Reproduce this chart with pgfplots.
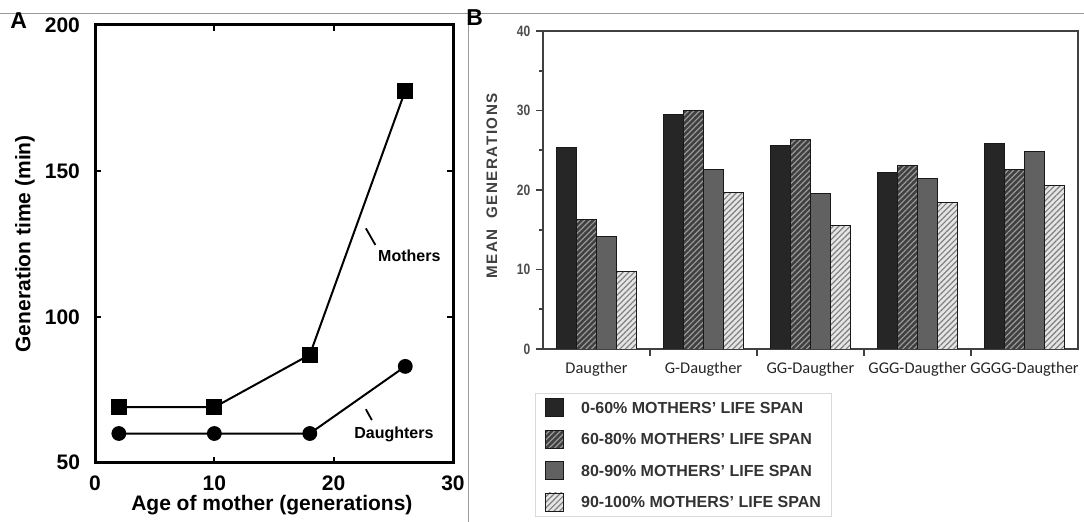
\documentclass[border=0pt]{standalone}
\usepackage{fontspec}
\setmainfont{Liberation Sans}
\newfontfamily\carlito{Carlito}
\usepackage{pgfplots}
\pgfplotsset{compat=1.18}
\usetikzlibrary{patterns.meta}

\begin{document}
\begin{tikzpicture}
\useasboundingbox (0pt,0pt) rectangle (542pt,261pt);
% frame lines of the figure
\draw[black!40, line width=0.5pt] (0pt,254pt) -- (542pt,254pt);
\draw[black!40, line width=0.5pt] (234pt,254pt) -- (234pt,0pt);
\node[font=\bfseries\fontsize{11.5}{12}\selectfont, anchor=base west, inner sep=0pt] at (5pt,246.5pt) {A};
\node[font=\bfseries\fontsize{11.5}{12}\selectfont, anchor=base west, inner sep=0pt] at (233pt,248pt) {B};

% ---------- panel A ----------
\begin{axis}[
  at={(47.5pt,29.65pt)}, anchor=south west,
  scale only axis, width=179pt, height=218.85pt,
  xmin=0, xmax=30, ymin=50, ymax=200,
  xtick={0,10,20,30}, ytick={50,100,150,200},
  tick align=inside, major tick length=3pt,
  axis line style={line width=1.5pt},
  every tick/.style={black, line width=1pt},
  /pgf/number format/assume math mode=true,
  ticklabel style={font=\bfseries\fontsize{10.5}{12}\selectfont},
  xticklabel style={yshift=-3pt},
  yticklabel style={xshift=-4pt},
  label style={font=\bfseries\fontsize{10.5}{12}\selectfont},
  xlabel={Age of mother (generations)},
  ylabel={Generation time (min)},
  xlabel style={at={(axis description cs:0.494,-0.098)}, anchor=center},
  ylabel style={at={(axis description cs:-0.1955,0.5)}, anchor=center},
]
\addplot[black, line width=1pt, mark=square*, mark size=3.5pt] coordinates {(2,69) (10,69) (18,87) (26,177.5)};
\addplot[black, line width=1pt, mark=*, mark size=3.2pt] coordinates {(2,60) (10,60) (18,60) (26,83)};
\draw[line width=0.9pt] (axis cs:22.7,130.3) -- (axis cs:23.5,124.6);
\node[anchor=west, inner sep=0pt, font=\bfseries\fontsize{8}{9}\selectfont] at (axis cs:23.7,120.8) {Mothers};
\draw[line width=0.9pt] (axis cs:22.7,68.3) -- (axis cs:23.2,64.6);
\node[anchor=west, inner sep=0pt, font=\bfseries\fontsize{8}{9}\selectfont] at (axis cs:21.7,59.8) {Daughters};
\end{axis}

% ---------- panel B ----------
\begin{axis}[
  at={(271.5pt,86.5pt)}, anchor=south west,
  scale only axis, width=267.5pt, height=159pt,
  ybar=0pt, bar width=10pt,
  xmin=-0.5, xmax=4.5, ymin=0, ymax=40,
  xtick={0.5,1.5,2.5,3.5}, xticklabels={},
  extra x ticks={0,1,2,3,4},
  extra x tick labels={Daugther,G-Daugther,GG-Daugther,GGG-Daugther,GGGG-Daugther},
  extra x tick style={major tick length=0pt, tick label style={font=\carlito\fontsize{8.2}{9}\selectfont, text=black!85, yshift=-3pt}},
  ytick={0,10,20,30,40}, minor y tick num=1,
  xtick pos=left, ytick pos=left,
  tick align=outside, major tick length=3.5pt, minor tick length=2pt,
  every tick/.style={black!75, line width=0.8pt},
  axis line style={black!75, line width=1pt},
  /pgf/number format/assume math mode=true,
  yticklabel style={font=\bfseries\fontsize{7.5}{8}\selectfont, text=black!70, xscale=0.8},
  ylabel={\addfontfeatures{LetterSpace=10}MEAN\hspace{0.7em}GENERATIONS},
  ylabel style={font=\bfseries\fontsize{7.6}{8}\selectfont, text=black!75, at={(axis description cs:-0.0953,0.5126)}, anchor=center},
  legend cell align=left,
  legend style={at={(-0.015,-0.1384)}, anchor=north west, draw=black!15, fill=white,
    font=\bfseries\fontsize{8}{9}\selectfont, text=black!80,
    inner xsep=5pt, inner ysep=2.5pt, row sep=6.3pt, column sep=0pt,
    nodes={inner sep=0pt, text height=5.8pt, text depth=0pt}},
  legend image code/.code={\draw[#1] (0pt,-4.5pt) rectangle (9pt,4.5pt); \path (17.5pt,0pt);},
]
\addplot[fill=black!85, draw=black!90] coordinates {(0,25.4) (1,29.5) (2,25.6) (3,22.2) (4,25.8)};
\addlegendentry{0-60\% MOTHERS' LIFE SPAN}
\addplot[fill=black!75, draw=black!90, postaction={pattern={Lines[angle=45,distance=2pt,line width=0.6pt]}, pattern color=black!40}] coordinates {(0,16.3) (1,30.0) (2,26.4) (3,23.1) (4,22.6)};
\addlegendentry{60-80\% MOTHERS' LIFE SPAN}
\addplot[fill=black!62, draw=black!90] coordinates {(0,14.2) (1,22.6) (2,19.6) (3,21.5) (4,24.8)};
\addlegendentry{80-90\% MOTHERS' LIFE SPAN}
\addplot[fill=black!10, draw=black!90, postaction={pattern={Lines[angle=45,distance=2pt,line width=0.6pt]}, pattern color=black!50}] coordinates {(0,9.8) (1,19.7) (2,15.5) (3,18.4) (4,20.6)};
\addlegendentry{90-100\% MOTHERS' LIFE SPAN}
\end{axis}
\end{tikzpicture}
\end{document}
